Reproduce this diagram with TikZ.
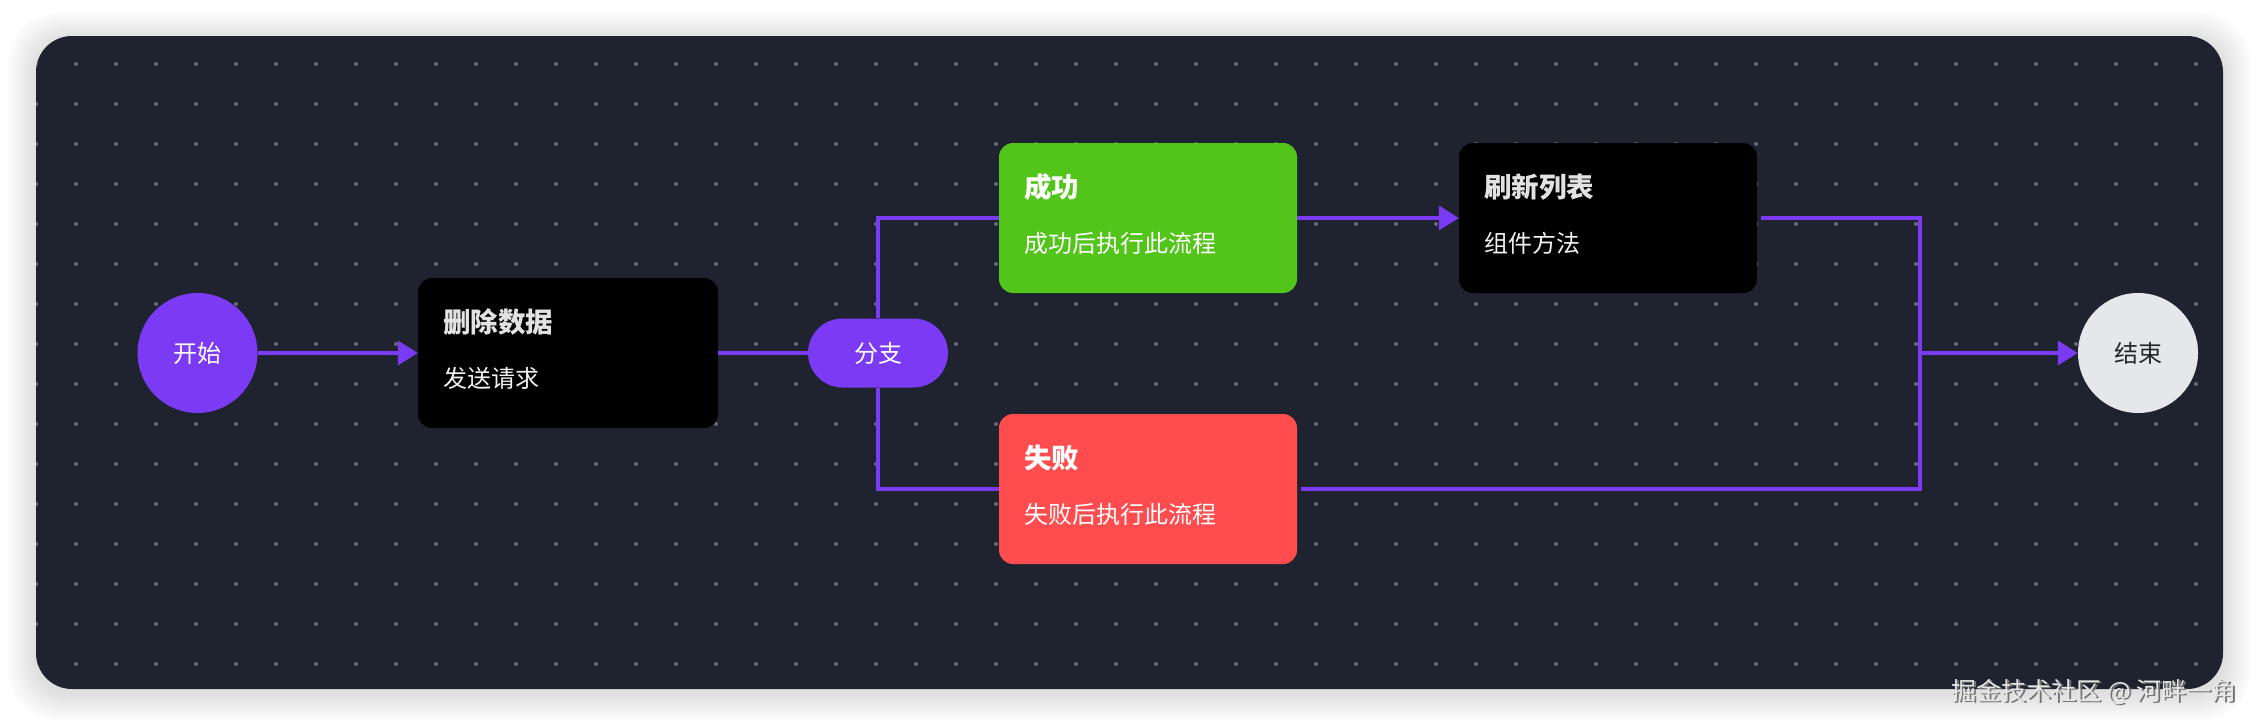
\documentclass[tikz,border=0pt]{standalone}
\usepackage{fontspec}
\setmainfont{Noto Sans CJK SC}
\usetikzlibrary{arrows.meta,shapes.misc}
\definecolor{panelbg}{HTML}{1E232F}
\definecolor{dotc}{HTML}{646A78}
\definecolor{purp}{HTML}{7B3AF3}
\definecolor{okgreen}{HTML}{52C41A}
\definecolor{errred}{HTML}{FF4D4F}
\definecolor{endfill}{HTML}{E5E7EB}
\definecolor{titlegray}{HTML}{E2E2E2}
\definecolor{subwhite}{HTML}{F2F2F2}
\tikzset{
  circnode/.style={circle, minimum size=120pt, inner sep=0pt, font=\fontsize{24}{28}\selectfont},
  cardbox/.style={rectangle, rounded corners=14pt, minimum width=298pt, minimum height=150pt, inner sep=0pt},
  cardtitle/.style={anchor=west, inner sep=0pt, font=\fontsize{27.5}{31}\selectfont\bfseries},
  cardsub/.style={anchor=west, inner sep=0pt, font=\fontsize{24}{28}\selectfont},
  flow/.style={draw=purp, line width=3.8pt},
  flowarrow/.style={flow, -{Triangle[length=20pt,width=24pt]}},
}
\begin{document}
\begin{tikzpicture}[x=1pt,y=-1pt]
\useasboundingbox (0,0) rectangle (2260,726);
\fill[white] (0,0) rectangle (2260,726);
% shadow of panel
\foreach \i in {1,...,16}{
  \fill[black, opacity=0.006, rounded corners={36pt+\i pt}] ({36-1.8*\i},{36-1.8*\i+4}) rectangle ({2223+1.8*\i},{689+1.8*\i+4});
}
% panel
\fill[panelbg, rounded corners=36pt] (36,36) rectangle (2223,689);
\begin{scope}
  \clip[rounded corners=36pt] (36,36) rectangle (2223,689);
  \foreach \x in {36,76,...,2196}{
    \foreach \y in {24,64,...,664}{
      \fill[dotc] (\x,\y) circle (2pt);
    }
  }
\end{scope}
% nodes
\node[circnode, fill=purp, text=white] (start) at (197.5,353) {开始};
\node[cardbox, fill=black, minimum width=300pt] (del) at (568,353) {};
\node[rounded rectangle, fill=purp, text=white, minimum width=140pt, minimum height=69pt, inner sep=0pt, font=\fontsize{24}{28}\selectfont] (branch) at (878,353) {分支};
\node[cardbox, fill=okgreen] (succ) at (1148,218) {};
\node[cardbox, fill=errred] (fail) at (1148,489) {};
\node[cardbox, fill=black] (refresh) at (1608,218) {};
\node[circnode, fill=endfill, text=black!85] (end) at (2138,353) {结束};
% card texts
\node[cardtitle, text=titlegray] (delT) at ([xshift=25pt,yshift=31pt]del.west) {删除数据};
\node[cardsub, text=subwhite] (delS) at ([xshift=25pt,yshift=-25pt]del.west) {发送请求};
\node[cardtitle, text=white] (succT) at ([xshift=25pt,yshift=31pt]succ.west) {成功};
\node[cardsub, text=white] (succS) at ([xshift=25pt,yshift=-25pt]succ.west) {成功后执行此流程};
\node[cardtitle, text=white] (failT) at ([xshift=25pt,yshift=31pt]fail.west) {失败};
\node[cardsub, text=white] (failS) at ([xshift=25pt,yshift=-25pt]fail.west) {失败后执行此流程};
\node[cardtitle, text=titlegray] (refT) at ([xshift=25pt,yshift=31pt]refresh.west) {刷新列表};
\node[cardsub, text=subwhite] (refS) at ([xshift=25pt,yshift=-25pt]refresh.west) {组件方法};
% connectors
\coordinate (join) at (1920,353);
\draw[flowarrow] (start.east) -- (del.west);
\draw[flow] (del.east) -- (branch.west);
\draw[flow] (branch.north) |- (succ.west);
\draw[flow] (branch.south) |- (fail.west);
\draw[flowarrow] (succ.east) -- (refresh.west);
\draw[flow] ([xshift=4pt]refresh.east) -| (join);
\draw[flow] ([xshift=4pt]fail.east) -| (join);
\draw[flowarrow] (join) -- (end.west);
% watermark
\node[anchor=base east, inner sep=0pt, text=black!55, font=\fontsize{25}{28}\selectfont] (wmS) at (2238.5,701.5) {掘金技术社区 @ 河畔一角};
\node[anchor=base east, inner sep=0pt, text=white!90!black, font=\fontsize{25}{28}\selectfont] (wm) at (2237,700) {掘金技术社区 @ 河畔一角};
\end{tikzpicture}
\end{document}
